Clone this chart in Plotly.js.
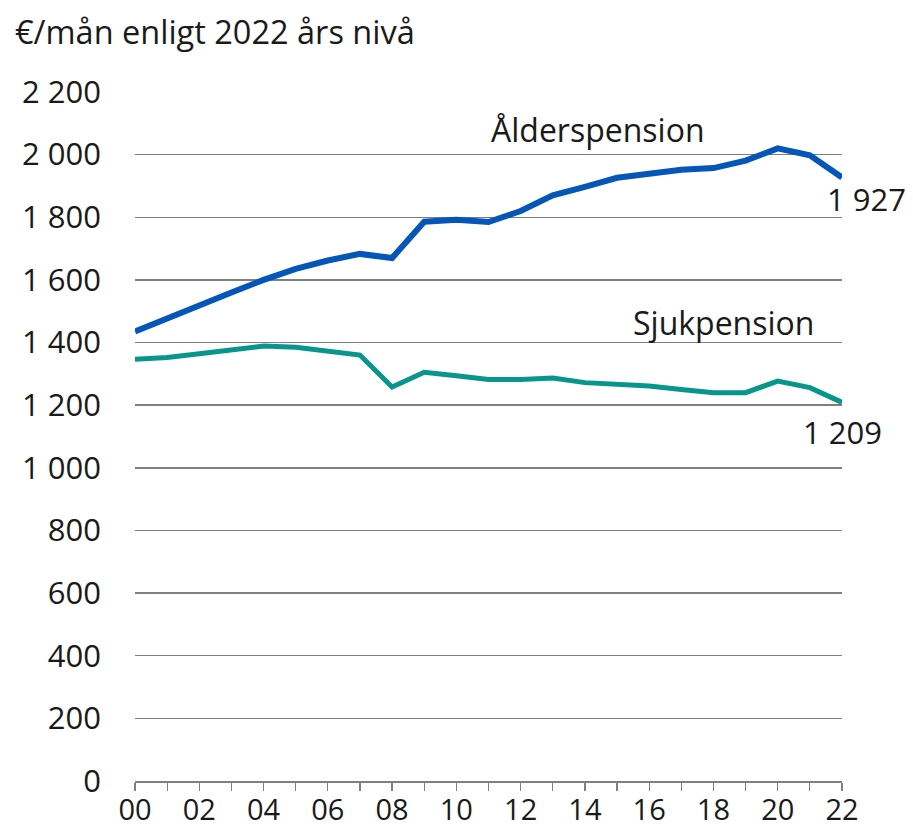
<!DOCTYPE html>
<html>
<head>
<meta charset="utf-8">
<script src="https://cdn.plot.ly/plotly-3.0.1.min.js"></script>
<style>html,body{margin:0;padding:0;background:#fff;}#chart{width:913px;height:832px;}</style>
</head>
<body>
<div id="chart"></div>
<script>
const years = [2000,2001,2002,2003,2004,2005,2006,2007,2008,2009,2010,2011,2012,2013,2014,2015,2016,2017,2018,2019,2020,2021,2022];
const alderspension = [1435,1478,1520,1560,1600,1635,1662,1683,1670,1786,1792,1785,1820,1870,1897,1926,1939,1952,1957,1981,2020,1998,1927];
const sjukpension = [1347,1352,1364,1377,1389,1385,1372,1360,1258,1305,1294,1282,1282,1287,1272,1267,1261,1250,1240,1240,1277,1256,1209];
const xTickVals = years;
const xTickText = ["00","","02","","04","","06","","08","","10","","12","","14","","16","","18","","20","","22"];
const yTickVals = [0,200,400,600,800,1000,1200,1400,1600,1800,2000,2200];
const seriesNames = ["Ålderspension","Sjukpension"];
const endLabels = ["1 927","1 209"];
const titleText = "€/mån enligt 2022 års nivå";

const font = "Open Sans, Noto Sans, sans-serif";
const traces = [
  {x: years, y: alderspension, type: "scatter", mode: "lines", name: seriesNames[0],
   line: {color: "#0456b8", width: 6}, hoverinfo: "skip"},
  {x: years, y: sjukpension, type: "scatter", mode: "lines", name: seriesNames[1],
   line: {color: "#06968c", width: 5}, hoverinfo: "skip"}
];
const layout = {
  width: 913, height: 832,
  margin: {l: 135, r: 71, t: 92, b: 51},
  paper_bgcolor: "#fff", plot_bgcolor: "#fff",
  showlegend: false,
  separators: ", ",
  font: {family: font, color: "#1a1a1a", size: 31},
  title: {text: titleText, x: 15/913, xref: "container", xanchor: "left",
          y: 1 - 33/832, yref: "container", yanchor: "middle",
          font: {family: font, size: 32.5, color: "#1a1a1a"}},
  xaxis: {range: [2000, 2022], tickmode: "array", tickvals: xTickVals, ticktext: xTickText,
          ticks: "outside", ticklen: 8, tickwidth: 1.2, tickcolor: "#7f7f7f",
          showline: true, linecolor: "#7f7f7f", linewidth: 1.5, showgrid: false, zeroline: false,
          ticklabelstandoff: -5,
          tickfont: {family: font, size: 29, color: "#1a1a1a"}, fixedrange: true},
  yaxis: {range: [0, 2200], tickmode: "array", tickvals: yTickVals, tickformat: ",d",
          showgrid: true, gridcolor: "#7f7f7f", gridwidth: 1.5, zeroline: false, showline: false,
          ticks: "", ticklabelstandoff: 33,
          tickfont: {family: font, size: 31, color: "#1a1a1a"}, fixedrange: true},
  annotations: [
    {x: 2014.4, y: 2080, xref: "x", yref: "y", text: seriesNames[0], showarrow: false,
     xanchor: "center", yanchor: "middle",
     font: {family: font, size: 32, color: "#1a1a1a"}},
    {x: 2018.3, y: 1463, xref: "x", yref: "y", text: seriesNames[1], showarrow: false,
     xanchor: "center", yanchor: "middle",
     font: {family: font, size: 32, color: "#1a1a1a"}},
    {x: (866 - 135) / 707, y: 1859, xref: "paper", yref: "y", text: endLabels[0], showarrow: false,
     xanchor: "center", yanchor: "middle",
     font: {family: font, size: 31, color: "#1a1a1a"}},
    {x: (842 - 135) / 707, y: 1115, xref: "paper", yref: "y", text: endLabels[1], showarrow: false,
     xanchor: "center", yanchor: "middle",
     font: {family: font, size: 31, color: "#1a1a1a"}}
  ]
};
Plotly.newPlot("chart", traces, layout, {staticPlot: true, displayModeBar: false});
</script>
</body>
</html>
